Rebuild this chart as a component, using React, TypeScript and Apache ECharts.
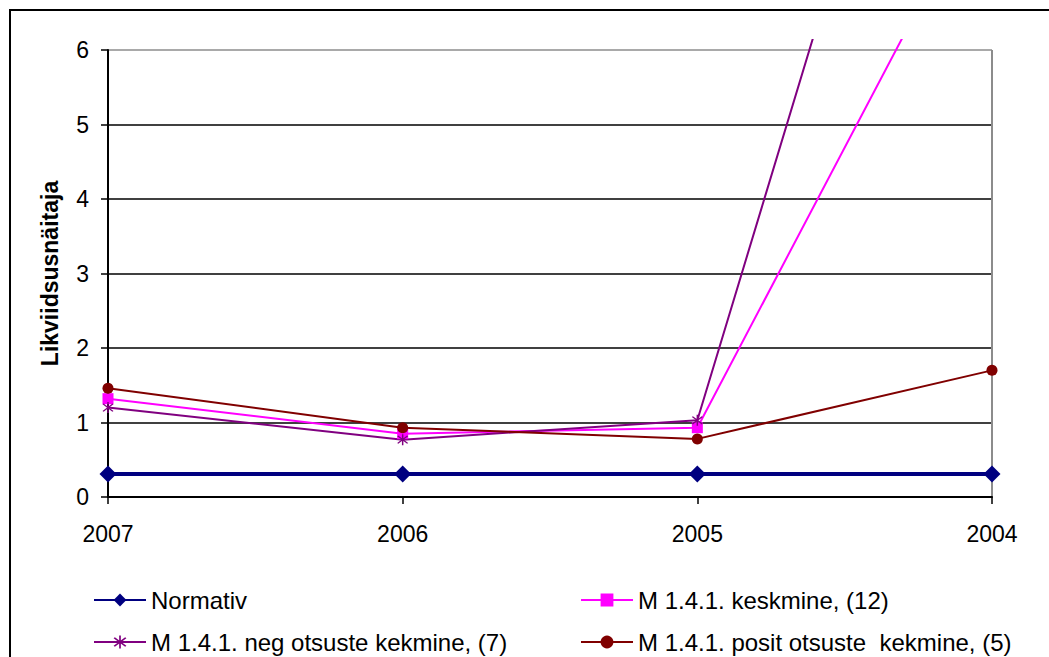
import React, { useEffect, useRef } from "react";
import * as echarts from "echarts";

// Years shown on the category axis (newest first)
const years = ["2007", "2006", "2005", "2004"];

// Liquidity ratio per group
const normativ = [0.31, 0.31, 0.31, 0.31];
const keskmine = [1.32, 0.85, 0.93, 8.45];
const negKeskmine = [1.2, 0.77, 1.03, 14.1];
const positKeskmine = [1.46, 0.93, 0.78, 1.7];

const seriesNames = [
  "Normativ",
  "M 1.4.1. keskmine, (12)",
  "M 1.4.1. neg otsuste kekmine, (7)",
  "M 1.4.1. posit otsuste  kekmine, (5)",
];

const yTicks = [0, 1, 2, 3, 4, 5, 6];

// Asterisk marker built from three filled bars
const asterisk =
  "path://M9,0 L11,0 L11,20 L9,20 Z M2.5,4 L4,2.5 L17.5,16 L16,17.5 Z M16,2.5 L17.5,4 L4,17.5 L2.5,16 Z";

const FONT = "'Liberation Sans', Arial, sans-serif";

export default function App() {
  const ref = useRef<HTMLDivElement>(null);

  useEffect(() => {
    if (!ref.current) return;
    const chart = echarts.init(ref.current, undefined, { renderer: "svg" });

    const legendText = { fontFamily: FONT, fontSize: 24, color: "#000" };

    chart.setOption({
      animation: false,
      backgroundColor: "#fff",
      grid: { left: 108, right: 57, top: 50, bottom: 160 },
      xAxis: {
        type: "category",
        data: years,
        boundaryGap: false,
        axisLine: { lineStyle: { color: "#000", width: 2 } },
        axisTick: { show: true, length: 7, inside: false, lineStyle: { color: "#000", width: 1.5 } },
        axisLabel: { fontFamily: FONT, fontSize: 23, color: "#000", margin: 25 },
        splitLine: {
          show: true,
          lineStyle: { color: ["rgba(0,0,0,0)", "rgba(0,0,0,0)", "rgba(0,0,0,0)", "#8c8c8c"], width: 2 },
        },
      },
      yAxis: {
        type: "value",
        min: yTicks[0],
        max: yTicks[yTicks.length - 1],
        interval: 1,
        name: "Likviidsusnäitaja",
        nameLocation: "middle",
        nameGap: 47,
        nameTextStyle: { fontFamily: FONT, fontSize: 23, fontWeight: "bold", color: "#000" },
        axisLine: { show: true, lineStyle: { color: "#000", width: 2 } },
        axisTick: { show: true, length: 7, lineStyle: { color: "#000", width: 1.5 } },
        axisLabel: { fontFamily: FONT, fontSize: 23, color: "#000", margin: 19 },
        splitLine: {
          show: true,
          lineStyle: {
            color: ["#000", "#000", "#000", "#000", "#000", "#000", "#8c8c8c"],
            width: 1.5,
          },
        },
      },
      legend: [
        {
          data: [seriesNames[0], seriesNames[2]],
          orient: "vertical",
          left: 93,
          top: 588,
          itemWidth: 52,
          itemHeight: 16,
          itemGap: 18,
          textStyle: legendText,
          padding: 0,
        },
        {
          data: [seriesNames[1], seriesNames[3]],
          orient: "vertical",
          left: 580,
          top: 588,
          itemWidth: 52,
          itemHeight: 16,
          itemGap: 18,
          textStyle: legendText,
          padding: 0,
        },
      ],
      graphic: [
        {
          type: "rect",
          z: 100,
          shape: { x: 112, y: 0, width: 937, height: 39 },
          style: { fill: "#fff" },
        },
        {
          type: "rect",
          z: 101,
          shape: { x: 10, y: 10, width: 1060, height: 700 },
          style: { fill: "none", stroke: "#000", lineWidth: 2 },
        },
      ],
      series: [
        {
          name: seriesNames[0],
          type: "line",
          data: normativ,
          symbol: "diamond",
          symbolSize: 17,
          color: "#000080",
          lineStyle: { color: "#000080", width: 4 },
          itemStyle: { color: "#000080" },
          z: 5,
        },
        {
          name: seriesNames[1],
          type: "line",
          data: keskmine,
          symbol: "rect",
          symbolSize: 11,
          clip: false,
          color: "#ff00ff",
          lineStyle: { color: "#ff00ff", width: 2 },
          itemStyle: { color: "#ff00ff" },
        },
        {
          name: seriesNames[2],
          type: "line",
          data: negKeskmine,
          symbol: asterisk,
          symbolSize: 11,
          clip: false,
          color: "#800080",
          lineStyle: { color: "#800080", width: 2 },
          itemStyle: { color: "#800080" },
        },
        {
          name: seriesNames[3],
          type: "line",
          data: positKeskmine,
          symbol: "circle",
          symbolSize: 11,
          color: "#800000",
          lineStyle: { color: "#800000", width: 2 },
          itemStyle: { color: "#800000" },
        },
      ],
    });

    return () => chart.dispose();
  }, []);

  return (
    <div
      ref={ref}
      style={{ position: "fixed", left: 0, top: 0, width: 1049, height: 657, background: "#fff" }}
    />
  );
}
